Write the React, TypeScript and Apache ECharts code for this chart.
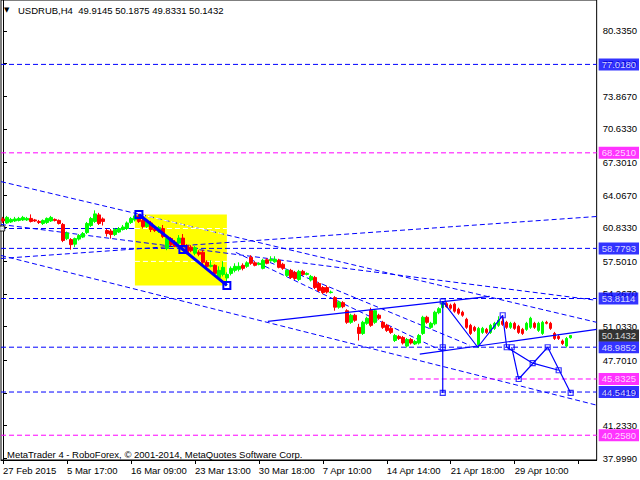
import { useEffect, useRef } from 'react';
import * as echarts from 'echarts';

const SLOT_COUNT = 149;
const X_LABEL_EVERY = 16;
const xTickLabels = ['27 Feb 2015', '5 Mar 17:00', '16 Mar 09:00', '23 Mar 13:00', '30 Mar 18:00', '7 Apr 10:00', '14 Apr 14:00', '21 Apr 18:00', '29 Apr 10:00'];
const yTickValues = [37.999, 41.233, 44.467, 47.701, 51.033, 54.267, 57.501, 60.833, 64.067, 67.301, 70.633, 73.867, 77.101, 80.335];

const opens = [61.70,61.30,61.40,61.50,61.55,61.60,61.60,61.75,61.60,61.45,61.25,61.35,61.50,61.65,61.55,61.15,59.75,59.65,59.20,59.70,59.90,60.35,61.05,61.45,62.10,61.70,60.55,60.50,60.15,60.40,60.65,60.75,61.35,61.60,62.00,61.54,60.95,61.30,60.75,60.45,60.75,58.77,59.76,59.40,59.30,59.80,59.05,58.90,58.30,58.40,58.40,57.40,57.00,57.10,55.90,56.20,55.85,56.30,56.60,56.70,57.10,57.00,57.90,57.35,57.20,56.80,57.65,57.55,57.45,57.60,57.20,56.10,56.60,56.40,55.70,56.50,56.20,55.65,55.90,55.30,54.90,54.90,54.40,53.90,52.95,53.40,52.60,51.45,52.15,50.95,50.35,51.35,52.64,51.45,52.15,51.45,51.15,50.85,49.65,50.05,49.95,49.10,49.75,49.30,49.40,50.35,51.95,50.95,51.30,52.40,52.90,53.30,53.15,53.25,52.75,52.45,51.75,51.15,50.95,49.25,50.45,50.75,50.45,50.85,51.15,51.55,51.45,50.95,51.35,51.05,50.75,50.75,50.95,51.35,50.65,50.35,51.45,51.35,50.35,50.05,49.60,49.10,49.9145];
const highs = [61.90,62.00,61.80,61.90,61.90,62.00,61.90,62.15,61.70,61.60,61.65,61.85,62.00,61.75,61.65,61.30,60.45,59.80,59.85,60.20,60.40,61.40,61.90,62.55,62.30,61.85,60.70,60.70,60.80,60.90,61.10,61.45,61.90,62.15,62.20,61.74,61.60,61.50,60.90,61.00,61.10,60.00,59.90,59.60,60.10,60.20,59.20,59.10,59.00,58.60,58.60,57.60,57.60,57.20,57.00,57.50,56.40,57.00,57.30,57.40,57.30,57.50,58.10,57.50,57.40,57.75,57.80,58.00,58.00,57.75,57.35,56.75,56.75,56.55,56.65,56.65,56.40,56.15,56.05,55.45,55.05,55.10,54.60,54.05,53.60,53.55,52.75,52.30,52.30,51.30,51.60,52.00,52.90,52.75,52.30,51.60,51.30,51.00,50.30,50.20,50.10,49.90,49.90,49.70,50.30,52.10,52.10,51.50,52.60,52.95,53.55,53.45,53.30,53.40,52.90,52.60,51.90,51.30,51.10,51.00,51.00,50.90,51.30,51.50,52.05,52.00,51.60,51.50,51.50,51.20,50.90,51.50,52.00,51.50,51.50,51.60,51.60,51.50,50.50,50.20,49.75,50.00,50.1875];
const lows = [61.30,61.20,61.30,61.40,61.45,61.50,61.50,61.35,61.40,61.20,61.10,61.20,61.40,61.45,61.15,59.40,59.60,58.65,58.90,59.55,59.80,60.20,60.90,61.30,61.10,61.05,59.95,59.75,60.00,60.30,60.55,60.60,61.20,61.45,61.30,60.75,60.80,60.40,60.40,60.30,59.80,58.60,59.00,58.90,59.20,58.80,58.20,58.40,58.10,58.00,57.20,56.80,56.90,56.00,55.70,56.00,55.10,56.10,56.40,56.50,56.60,56.85,57.15,57.00,57.10,56.70,57.20,57.45,57.35,56.80,56.65,55.95,55.75,55.65,55.55,56.05,56.10,55.50,54.75,54.45,54.25,54.30,54.30,52.60,52.80,52.85,51.30,51.30,51.50,49.65,50.20,51.20,51.00,51.30,51.70,50.80,50.50,50.30,49.50,49.70,49.25,48.95,49.25,49.20,49.25,50.20,51.30,50.80,51.15,52.25,52.80,52.90,52.70,52.40,52.20,52.00,50.80,50.20,50.50,48.90,50.30,50.30,50.30,50.70,51.00,51.10,50.80,50.80,50.70,50.30,50.20,50.60,50.80,50.80,50.50,50.20,51.25,50.70,49.70,49.70,49.20,48.95,49.8331];
const closes = [61.50,61.85,61.65,61.70,61.75,61.85,61.75,61.45,61.50,61.35,61.55,61.75,61.85,61.55,61.25,59.56,60.30,59.15,59.75,60.05,60.25,61.25,61.74,62.20,61.25,61.45,60.25,60.15,60.65,60.75,60.90,61.30,61.75,62.00,61.45,60.95,61.44,60.65,60.55,60.85,59.96,59.76,59.17,59.00,59.80,58.95,58.35,58.55,58.85,58.20,57.40,57.00,57.10,56.30,56.60,56.90,56.20,56.80,57.00,57.00,56.80,57.35,57.30,57.10,57.30,57.60,57.30,57.70,57.70,56.90,56.80,56.60,55.90,55.80,56.50,56.20,56.30,56.00,54.90,54.60,54.40,54.45,54.45,52.95,53.45,53.00,51.45,52.15,51.65,50.35,51.45,51.85,51.15,52.60,51.85,50.95,50.65,50.45,50.15,49.85,49.40,49.75,49.40,49.55,50.15,51.95,51.45,51.35,52.45,52.80,53.40,53.00,52.85,52.55,52.35,52.15,50.95,50.35,50.65,50.85,50.85,50.45,51.15,51.35,51.65,51.25,50.95,51.35,50.85,50.45,50.35,51.35,51.85,50.95,51.35,51.45,51.35,50.85,49.85,49.85,49.35,49.85,50.1432];

const levelValues = [77.018, 68.251, 58.7793, 53.8114, 48.9852, 45.8325, 44.5419, 40.258];
const levelColors = ['#0000ff', '#ff00ff', '#0000ff', '#0000ff', '#0000ff', '#ff00ff', '#0000ff', '#ff00ff'];
const levelStarts = [-0.5, -0.5, -0.5, -0.5, -0.5, 101.75, -0.5, -0.5];
const lastPrice = 50.1432;

const boxCorners = [[33, 62.14], [56, 55.11]];
const thickPath = [[34, 62.14], [45, 58.67], [56, 55.11]];
const solidPaths = [
  [[66.25, 51.55], [121.75, 54.02]],
  [[110, 53.53], [110, 44.45]],
  [[104.25, 48.29], [148.5, 50.76]],
  [[110, 53.53], [118.75, 48.98], [125, 52.15], [126, 48.98]],
  [[127.25, 48.98], [129, 45.83], [136.25, 48.98], [142, 44.45]],
  [[126, 48.98], [132.5, 47.4], [139, 46.7]],
];
const dashedPaths = [
  [[-0.5, 65.4], [148.5, 51.45]],
  [[-0.5, 57.78], [148.5, 61.94]],
  [[-0.5, 58.08], [148.5, 43.24]],
  [[-0.5, 61.15], [148.5, 53.63]],
  [[58.25, 58.38], [110.5, 48.49]],
  [[66.75, 57.39], [116.75, 49.18]],
  [[-0.5, 60.75], [33, 60.75]],
];
const whiteInBoxPaths = [
  [[33, 60.75], [56, 60.75]],
  [[33, 57.49], [56, 57.49]],
  [[34.3, 62.14], [56, 60.11]],
];
const markerPoints = [[110, 53.53], [110, 48.98], [110, 44.45], [125, 52.15], [126, 48.98], [127.25, 48.98], [129, 45.83], [132.5, 47.4], [136.25, 48.98], [139, 46.7], [142, 44.45]];
const anchorPoints = [[-0.2, 60.75]];

const FONT = 'Liberation Sans, Arial, sans-serif';
const DASH = [5, 3];

export default function App() {
  const ref = useRef<HTMLDivElement>(null);
  useEffect(() => {
    if (!ref.current) return;
    const chart = echarts.init(ref.current, null, { renderer: 'svg' });
    const categories = Array.from({ length: SLOT_COUNT }, (_, i) => String(i));
    const candleData = opens.map((o, i) => [o, closes[i], lows[i], highs[i]]);
    const xEnd = SLOT_COUNT - 0.5;

    const series: any[] = [];
    series.push({
      type: 'line', xAxisIndex: 1, yAxisIndex: 0, data: [], z: 1, silent: true,
      markArea: {
        silent: true,
        itemStyle: { color: '#ffff00', opacity: 1 },
        data: [[{ coord: boxCorners[0] }, { coord: boxCorners[1] }]],
      },
    });
    dashedPaths.forEach((p) => {
      series.push({
        type: 'line', xAxisIndex: 1, yAxisIndex: 0, data: p, symbol: 'none', z: 2,
        lineStyle: { color: '#0000ff', width: 1, type: DASH }, silent: true,
      });
    });
    whiteInBoxPaths.forEach((p) => {
      series.push({
        type: 'line', xAxisIndex: 1, yAxisIndex: 0, data: p, symbol: 'none', z: 2,
        lineStyle: { color: '#ffffff', width: 1, type: DASH }, silent: true,
      });
    });
    levelValues.forEach((v, k) => {
      series.push({
        type: 'line', xAxisIndex: 1, yAxisIndex: 0, data: [[levelStarts[k], v], [xEnd, v]], symbol: 'none', z: 2,
        color: levelColors[k],
        lineStyle: { color: levelColors[k], width: 1, type: DASH }, silent: true,
      });
    });
    const labelSpecs = [
      ...levelValues.map((v, k) => ({ v, bg: levelColors[k] })),
      { v: lastPrice, bg: '#000000' },
    ];
    labelSpecs.forEach((s) => {
      series.push({
        type: 'scatter', xAxisIndex: 1, yAxisIndex: 0, data: [[xEnd, s.v]], symbolSize: 0, z: 6, silent: true,
        clip: false,
        itemStyle: { color: s.bg },
        label: {
          show: true, position: 'right', distance: 2, formatter: s.v.toFixed(4),
          color: '#fff', backgroundColor: s.bg, padding: [1, 3, 0, 3],
          fontFamily: FONT, fontSize: 9.5, lineHeight: 11,
        },
      });
    });
    series.push({
      type: 'candlestick', xAxisIndex: 0, yAxisIndex: 0, data: candleData, z: 3, barWidth: 3,
      itemStyle: { color: '#00ff00', color0: '#ff0000', borderColor: '#00ff00', borderColor0: '#ff0000', borderWidth: 1 },
    });
    solidPaths.forEach((p) => {
      series.push({
        type: 'line', xAxisIndex: 1, yAxisIndex: 0, data: p, symbol: 'none', z: 4,
        lineStyle: { color: '#0000ff', width: 1.2 }, silent: true,
      });
    });
    series.push({
      type: 'line', xAxisIndex: 1, yAxisIndex: 0, data: thickPath, symbol: 'rect', symbolSize: 7, z: 5,
      lineStyle: { color: '#0000ff', width: 3 },
      itemStyle: { color: 'rgba(255,255,255,0)', borderColor: '#0000ff', borderWidth: 2 }, silent: true,
    });
    series.push({
      type: 'scatter', xAxisIndex: 1, yAxisIndex: 0, data: markerPoints, symbol: 'rect', symbolSize: 5, z: 5,
      itemStyle: { color: 'rgba(255,255,255,0)', borderColor: '#0000ff', borderWidth: 1.2 }, silent: true,
    });
    series.push({
      type: 'scatter', xAxisIndex: 1, yAxisIndex: 0, data: anchorPoints, symbol: 'rect', symbolSize: 5, z: 5,
      itemStyle: { color: '#fff', borderColor: '#000', borderWidth: 1 }, silent: true,
    });

    chart.setOption({
      animation: false,
      backgroundColor: '#ffffff',
      grid: { left: 1, right: 43, top: -1, bottom: 20, show: true, borderColor: '#000', borderWidth: 1, backgroundColor: 'transparent' },
      xAxis: [
        {
          type: 'category', data: categories, boundaryGap: true,
          axisLine: { show: true, lineStyle: { color: '#000' } },
          axisTick: { show: true, alignWithLabel: true, interval: X_LABEL_EVERY - 1, length: 4, lineStyle: { color: '#000' } },
          axisLabel: {
            show: true, interval: X_LABEL_EVERY - 1, align: 'left', margin: 5, color: '#000',
            fontFamily: FONT, fontSize: 9.5,
            formatter: (_v: string, idx: number) => (idx % X_LABEL_EVERY === 0 ? xTickLabels[idx / X_LABEL_EVERY] ?? '' : ''),
          },
          splitLine: { show: false },
        },
        { type: 'value', min: -0.5, max: SLOT_COUNT - 0.5, show: false },
      ],
      yAxis: [
        {
          type: 'value', position: 'right', min: 37.803, max: 83.401, scale: true,
          axisLine: { show: true, lineStyle: { color: '#000' } },
          axisTick: { show: true, length: 4, customValues: yTickValues, lineStyle: { color: '#000' } },
          axisLabel: {
            show: true, customValues: yTickValues, margin: 6, color: '#000', fontFamily: FONT, fontSize: 9.5,
            formatter: (v: number) => v.toFixed(4),
          },
          splitLine: { show: false },
        },
      ],
      graphic: [
        { type: 'text', left: 4, top: 6, style: { text: '▼', fontSize: 7, fill: '#000', fontFamily: 'DejaVu Sans' } },
        { type: 'text', left: 18, top: 5, style: { text: 'USDRUB,H4  49.9145 50.1875 49.8331 50.1432', fontSize: 9.5, fill: '#000', fontFamily: FONT } },
        { type: 'text', left: 7, top: 449, style: { text: 'MetaTrader 4 - RoboForex, © 2001-2014, MetaQuotes Software Corp.', fontSize: 9.5, fill: '#000', fontFamily: FONT } },
      ],
      series,
    });
    return () => chart.dispose();
  }, []);
  return <div ref={ref} style={{ position: 'fixed', left: 0, top: 0, width: 640, height: 480, background: '#fff' }} />;
}
